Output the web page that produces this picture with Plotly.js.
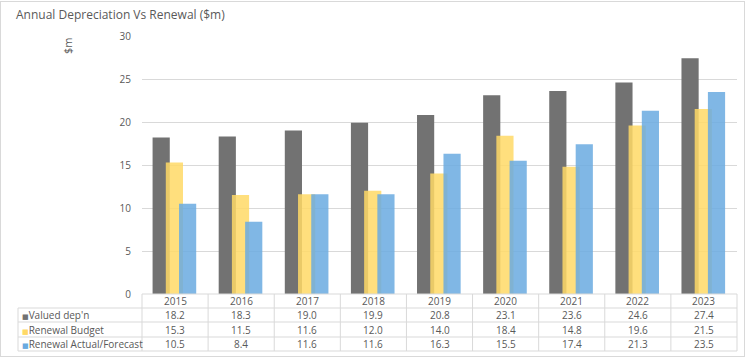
<!DOCTYPE html>
<html>
<head>
<meta charset="utf-8">
<script src="https://cdn.plot.ly/plotly-3.0.1.min.js"></script>
<style>
html,body{margin:0;padding:0;background:#fff;}
#wrap{position:relative;width:750px;height:358px;}
#chart{position:absolute;left:0;top:0;width:750px;height:358px;}
#frame{position:absolute;left:0;top:1px;width:743px;height:354px;border:1px solid #d9d9d9;pointer-events:none;}
</style>
</head>
<body>
<div id="wrap"><div id="chart"></div><div id="frame"></div></div>
<script>
const years = ['2015','2016','2017','2018','2019','2020','2021','2022','2023'];
const valuedDep = [18.2, 18.3, 19.0, 19.9, 20.8, 23.1, 23.6, 24.6, 27.4];
const renewalBudget = [15.3, 11.5, 11.6, 12.0, 14.0, 18.4, 14.8, 19.6, 21.5];
const renewalActual = [10.5, 8.4, 11.6, 11.6, 16.3, 15.5, 17.4, 21.3, 23.5];
const seriesNames = ["Valued dep'n", 'Renewal Budget', 'Renewal Actual/Forecast'];

const colors = ['#727272', '#FFD966', '#6AAAE0'];
const series = [valuedDep, renewalBudget, renewalActual];
const offsets = [-0.34, -0.14, 0.06];
const opac = [1, 0.85, 0.85];

const traces = series.map((vals, i) => ({
  type: 'bar', x: years, y: vals, name: seriesNames[i],
  marker: {color: colors[i], opacity: opac[i], line: {width: 0}},
  width: 0.26, offset: offsets[i], hoverinfo: 'x+y+name'
}));

// geometry (pixels)
const L = 142, R = 737, T = 36, B = 294, W = 750, H = 358;
const pw = R - L, ph = B - T;
const px = p => (p - L) / pw;
const py = p => (B - p) / ph;
const gridC = '#d9d9d9';
const textC = '#595959';

const shapes = [];
const line = (x0, y0, x1, y1) => shapes.push({type:'line', xref:'paper', yref:'paper',
  x0: px(x0), y0: py(y0), x1: px(x1), y1: py(y1), line:{color: gridC, width: 1}});

const rowLines = [308, 322, 337, 351];
line(L, B, R, B);
rowLines.forEach(y => line(18, y, R, y));
line(18, 308, 18, 351);
for (let k = 0; k <= years.length; k++) {
  const xx = L + k * pw / years.length;
  line(xx, B, xx, 351);
}

const annotations = [];
const rowCenters = [301, 315, 329.5, 344];
years.forEach((yr, j) => {
  annotations.push({x: j, xref:'x', y: py(rowCenters[0]), yref:'paper', text: yr,
    showarrow:false, xanchor:'center', yanchor:'middle', font:{size:10, color:textC}});
  series.forEach((vals, i) => {
    annotations.push({x: j, xref:'x', y: py(rowCenters[i+1]), yref:'paper', text: vals[j].toFixed(1),
      showarrow:false, xanchor:'center', yanchor:'middle', font:{size:10, color:textC}});
  });
});
seriesNames.forEach((nm, i) => {
  annotations.push({x: px(20), xref:'paper', y: py(rowCenters[i+1]), yref:'paper',
    text: '<span style="color:' + colors[i] + ';font-size:7px">■</span>' + nm,
    showarrow:false, xanchor:'left', yanchor:'middle', font:{size:10, color:textC}});
});
annotations.push({x: px(68), xref:'paper', y: py(46), yref:'paper', text:'$m', textangle:-90,
  showarrow:false, xanchor:'center', yanchor:'middle', font:{size:11, color:textC}});

const layout = {
  width: W, height: H,
  margin: {l: L, r: W - R, t: T, b: H - B, pad: 0},
  paper_bgcolor: '#fff', plot_bgcolor: '#fff',
  font: {family: '"Open Sans", "DejaVu Sans", sans-serif', color: textC},
  title: {text: 'Annual Depreciation Vs Renewal ($m)', x: 16/W, xref:'container', xanchor:'left',
    y: 1 - 15/H, yref:'container', yanchor:'middle', font:{size:12, color:textC}},
  barmode: 'overlay',
  showlegend: false,
  xaxis: {type:'category', showticklabels:false, showgrid:false, zeroline:false, showline:false,
    ticks:'', range:[-0.5, 8.5], fixedrange:true},
  yaxis: {range:[0,30], dtick:5, tick0:0, showgrid:true, gridcolor:gridC, gridwidth:1,
    zeroline:false, showline:false, ticks:'outside', ticklen:8, tickcolor:'rgba(0,0,0,0)',
    tickfont:{size:10, color:textC}, fixedrange:true},
  shapes: shapes,
  annotations: annotations
};

Plotly.newPlot('chart', traces, layout, {displayModeBar:false, staticPlot:true});
</script>
</body>
</html>
